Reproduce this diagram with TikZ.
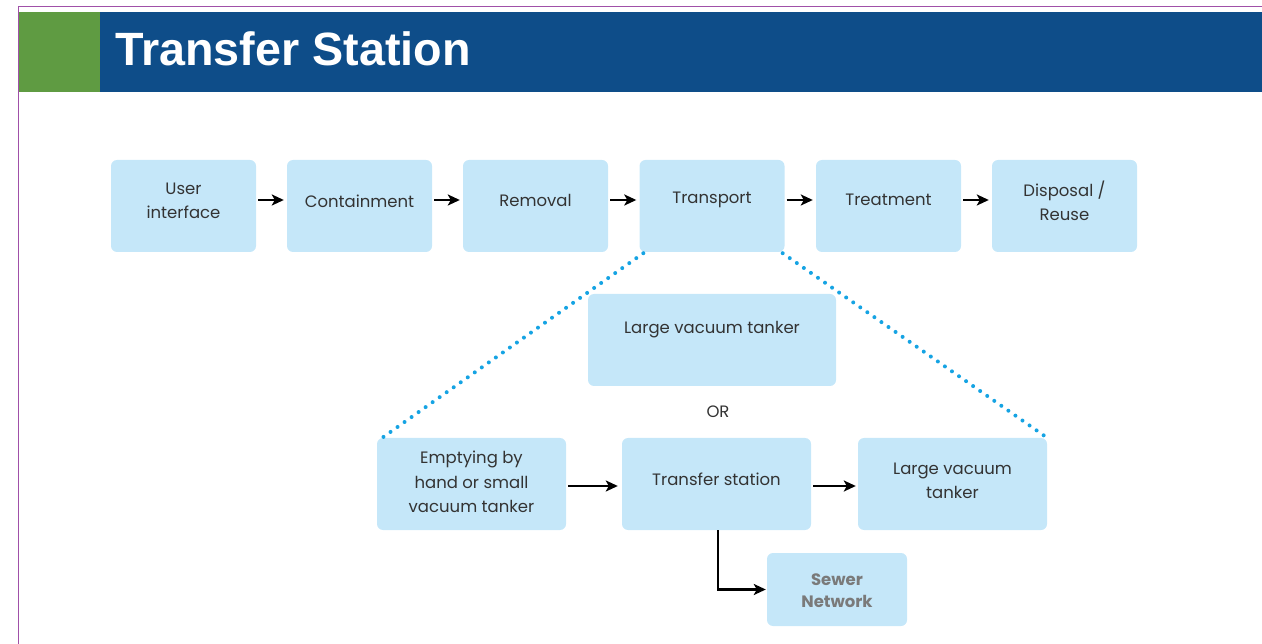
\documentclass[tikz,border=0pt]{standalone}
\usepackage{fontspec}
\setmainfont{Poppins}
\newfontfamily\titlefont{Liberation Sans}
\usetikzlibrary{arrows.meta}
\definecolor{boxfill}{HTML}{C5E7F9}
\definecolor{hdrblue}{HTML}{0E4D89}
\definecolor{hdrgreen}{HTML}{5F9B42}
\definecolor{frame}{HTML}{A050A8}
\definecolor{dotblue}{HTML}{15A3E3}
\definecolor{txt}{HTML}{333333}
\definecolor{sewtxt}{HTML}{7A7A7A}
\tikzset{
  stage/.style={fill=boxfill, rounded corners=6pt, draw=none, minimum width=145pt, minimum height=92pt, inner sep=0pt},
  lbl/.style={text=txt, font=\fontsize{16.5}{24.5}\selectfont, align=center},
  flow/.style={-{Stealth[length=12pt,width=11pt,inset=3pt]}, line width=2.4pt, black},
  dotline/.style={dotblue, line width=4pt, line cap=round, dash pattern=on 0pt off 8.6pt},
}
\begin{document}
\begin{tikzpicture}[x=1pt,y=-1pt]
\useasboundingbox (0,0) rectangle (1262,644);
% frame
\draw[frame, line width=1.5pt] (18.5,644) -- (18.5,6.5) -- (1262,6.5);
% header
\fill[hdrgreen] (19.3,12) rectangle (100,92);
\fill[hdrblue] (100,12) rectangle (1262,92);
\node[anchor=base west, text=white, font=\titlefont\bfseries\fontsize{46.7}{50}\selectfont, inner sep=0pt] (title) at (115,66) {Transfer Station};
% top row boxes
\node[stage] (ui) at (183.5,206) {};
\node[stage] (cont) at (359.5,206) {};
\node[stage] (rem) at (535.5,206) {};
\node[stage] (trans) at (712,206) {};
\node[stage] (treat) at (888.5,206) {};
\node[stage] (disp) at (1064.5,206) {};
\node[lbl] at (183.5,201) {User\\interface};
\node[lbl] at (359.5,201) {Containment};
\node[lbl] at (535.5,200) {Removal};
\node[lbl] at (712,200) {Transport};
\node[lbl] at (888.5,200) {Treatment};
\node[lbl] at (1064.5,201) {Disposal /\\Reuse};
\draw[flow] ([yshift=6pt,xshift=2pt]ui.east) -- ([yshift=6pt,xshift=-3pt]cont.west);
\draw[flow] ([yshift=6pt,xshift=2pt]cont.east) -- ([yshift=6pt,xshift=-3pt]rem.west);
\draw[flow] ([yshift=6pt,xshift=2pt]rem.east) -- ([yshift=6pt,xshift=-3pt]trans.west);
\draw[flow] ([yshift=6pt,xshift=2pt]trans.east) -- ([yshift=6pt,xshift=-3pt]treat.west);
\draw[flow] ([yshift=6pt,xshift=2pt]treat.east) -- ([yshift=6pt,xshift=-3pt]disp.west);
% large vacuum tanker (upper)
\node[stage, minimum width=248pt] (lvt) at (712,340) {};
\node[lbl] at (712,330) {Large vacuum tanker};
\node[lbl] (or) at (718,412) {OR};
% bottom row
\node[stage, minimum width=189pt] (emp) at (471.5,484) {};
\node[stage, minimum width=189pt] (ts) at (716.5,484) {};
\node[stage, minimum width=189pt] (lvt2) at (952.5,484) {};
\node[lbl] at (471.5,482) {Emptying by\\hand or small\\vacuum tanker};
\node[lbl] at (716.5,479.5) {Transfer station};
\node[lbl] at (952.5,481) {Large vacuum\\tanker};
\node[stage, minimum width=140pt, minimum height=73pt] (sew) at (837,589.5) {};
\node[lbl, text=sewtxt, font=\bfseries\fontsize{16.5}{22}\selectfont] at (837,591) {Sewer\\Network};
\draw[flow] ([xshift=2pt,yshift=-2pt]emp.east) -- ([xshift=-4pt,yshift=-2pt]ts.west);
\draw[flow] ([xshift=2pt,yshift=-2pt]ts.east) -- ([xshift=-2pt,yshift=-2pt]lvt2.west);
\draw[flow, line join=miter] ([xshift=1.5pt]ts.south) |- ([xshift=-1pt]sew.west);
% dotted
\draw[dotline] ([xshift=4pt,yshift=-1pt]trans.south west) -- ([xshift=4pt,yshift=-1pt]emp.north west);
\draw[dotline] ([xshift=-2pt,yshift=-1pt]trans.south east) -- (lvt2.north east);
\end{tikzpicture}
\end{document}
